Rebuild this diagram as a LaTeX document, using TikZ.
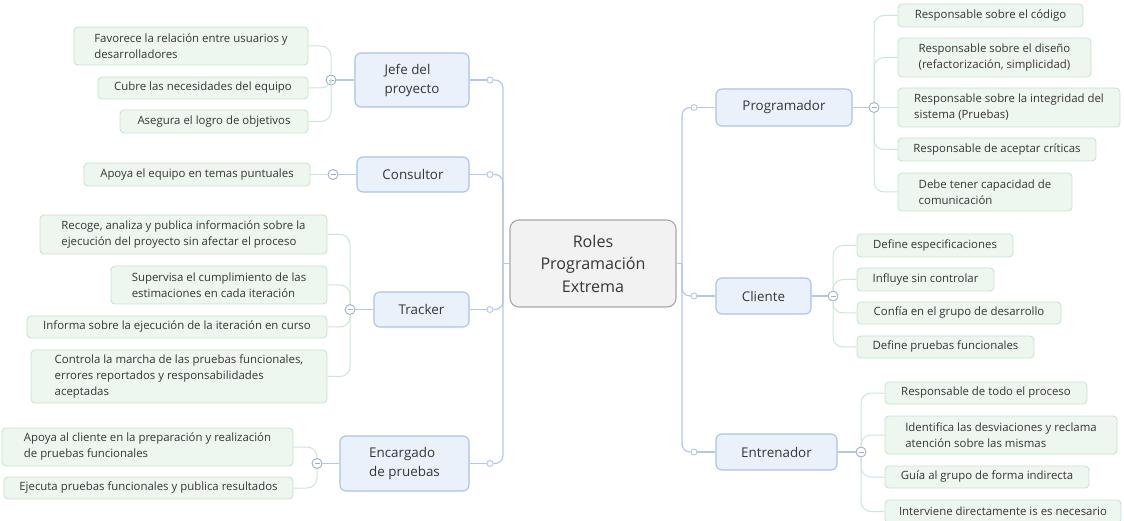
\documentclass[tikz,border=0pt]{standalone}
\usepackage{fontspec}
\setmainfont{Open Sans}
\definecolor{txt}{HTML}{363636}
\definecolor{leaffill}{HTML}{EDF6EF}
\definecolor{leafborder}{HTML}{C6E5CE}
\definecolor{rolefill}{HTML}{EBF1FA}
\definecolor{roleborder}{HTML}{A9C2E6}
\definecolor{rootfill}{HTML}{F2F2F2}
\definecolor{rootborder}{HTML}{A8A8A8}
\definecolor{trunk}{HTML}{B3C8E7}
\definecolor{twig}{HTML}{CBE7D3}
\definecolor{foldc}{HTML}{9FB0C4}
\begin{document}
\begin{tikzpicture}[x=1bp,y=-1bp,
  base/.style={align=left, inner sep=0pt, text=txt},
  sz/.style 2 args={minimum width=#1bp, minimum height=#2bp},
  leaf/.style={base, draw=leafborder, fill=leaffill, line width=0.9bp,
    rounded corners=4bp, font=\fontsize{11.4bp}{16bp}\selectfont},
  role/.style={base, draw=roleborder, fill=rolefill, line width=1.1bp,
    rounded corners=6bp, font=\fontsize{13.4bp}{19bp}\selectfont},
  rootbox/.style={align=center, inner sep=0pt, text=txt, draw=rootborder,
    fill=rootfill, line width=1.1bp, rounded corners=9bp,
    font=\fontsize{16.1bp}{22.5bp}\selectfont},
  dot/.style={circle, draw=trunk, fill=white, line width=0.9bp,
    inner sep=0pt, minimum size=6bp},
  fold/.style={circle, draw=foldc, fill=white, line width=0.9bp,
    inner sep=0pt, minimum size=10bp,
    path picture={\draw[foldc, line width=0.9bp]
      ([xshift=-2.5bp]path picture bounding box.center) --
      ([xshift=2.5bp]path picture bounding box.center);}},
  trunkline/.style={draw=trunk, line width=1.2bp, rounded corners=8bp},
  twigline/.style={draw=twig, line width=1bp, rounded corners=10bp}
]
\useasboundingbox (0,0) rectangle (1124,521);

% central topic
\node[rootbox, sz={166}{87}] (root) at (593,263.5) {Roles\\Programación\\Extrema};
\coordinate (lhub) at (503,263.5);
\coordinate (rhub) at (682,263.5);

% roles on the left
\node[role, sz={114}{54}] (jefe) at (412,80) {Jefe del\\proyecto};
\node[role, sz={112}{35}] (cons) at (413,174.5) {Consultor};
\node[role, sz={95}{35}] (track) at (421.5,309.5) {Tracker};
\node[role, sz={129}{55}] (enc) at (404.5,463.5) {Encargado\\de pruebas};

% roles on the right
\node[role, sz={136}{37}] (prog) at (784,107.5) {Programador};
\node[role, sz={95}{36}] (cli) at (763.5,296) {Cliente};
\node[role, sz={121}{36}] (ent) at (776.5,452) {Entrenador};

% trunk joints
\node[dot] (dj) at (490,80) {};
\node[dot] (dc) at (490,174.5) {};
\node[dot] (dt) at (490,309.5) {};
\node[dot] (de) at (490,463.5) {};
\node[dot] (dp) at (694,107.5) {};
\node[dot] (dcl) at (694,296) {};
\node[dot] (den) at (694,452) {};

% collapse markers
\node[fold] (cj) at (331,80) {};
\node[fold] (cc) at (333,174.5) {};
\node[fold] (ct) at (350,309.5) {};
\node[fold] (ce) at (317,463.5) {};
\node[fold] (cp) at (874,107.5) {};
\node[fold] (ccl) at (833,296) {};
\node[fold] (cen) at (861,452) {};

% details: Jefe del proyecto
\node[leaf, sz={234}{38}] (j1) at (191,46) {Favorece la relación entre usuarios y\\desarrolladores};
\node[leaf, sz={210}{22}] (j2) at (203,88) {Cubre las necesidades del equipo};
\node[leaf, sz={188}{23}] (j3) at (214,121.5) {Asegura el logro de objetivos};
% Consultor
\node[leaf, sz={226}{23}] (c1) at (197,174.5) {Apoya el equipo en temas puntuales};
% Tracker
\node[leaf, sz={287}{39}] (t1) at (183.5,234.5) {Recoge, analiza y publica información sobre la\\ejecución del proyecto sin afectar el proceso};
\node[leaf, sz={216}{38}] (t2) at (219,285) {Supervisa el cumplimiento de las\\estimaciones en cada iteración};
\node[leaf, sz={300}{22}] (t3) at (177,327) {Informa sobre la ejecución de la iteración en curso};
\node[leaf, sz={296}{53}] (t4) at (179,376.5) {Controla la marcha de las pruebas funcionales,\\errores reportados y responsabilidades\\aceptadas};
% Encargado de pruebas
\node[leaf, sz={291}{38}] (e1) at (147.5,447) {Apoya al cliente en la preparación y realización\\de pruebas funcionales};
\node[leaf, sz={289}{22}] (e2) at (148.5,488) {Ejecuta pruebas funcionales y publica resultados};

% Programador
\node[leaf, sz={185}{23}] (p1) at (990.5,15.5) {Responsable sobre el código};
\node[leaf, sz={193}{39}] (p2) at (994.5,57.5) {Responsable sobre el diseño\\(refactorización, simplicidad)};
\node[leaf, sz={222}{39}] (p3) at (1009,107.5) {Responsable sobre la integridad del\\sistema (Pruebas)};
\node[leaf, sz={198}{23}] (p4) at (997,149.5) {Responsable de aceptar críticas};
\node[leaf, sz={174}{38}] (p5) at (985,192) {Debe tener capacidad de\\comunicación};
% Cliente
\node[leaf, sz={156}{23}] (l1) at (935,245.5) {Define especificaciones};
\node[leaf, sz={137}{23}] (l2) at (925.5,279.5) {Influye sin controlar};
\node[leaf, sz={204}{22}] (l3) at (959,313) {Confía en el grupo de desarrollo};
\node[leaf, sz={177}{22}] (l4) at (945.5,347) {Define pruebas funcionales};
% Entrenador
\node[leaf, sz={202}{22}] (n1) at (986,393) {Responsable de todo el proceso};
\node[leaf, sz={232}{38}] (n2) at (1001,435) {Identifica las desviaciones y reclama\\atención sobre las mismas};
\node[leaf, sz={204}{22}] (n3) at (987,477) {Guía al grupo de forma indirecta};
\node[leaf, sz={236}{23}] (n4) at (1003,511.5) {Interviene directamente is es necesario};

% trunk connectors
\draw[trunkline] (lhub) -- (root);
\draw[trunkline] (rhub) -- (root);
\foreach \r/\d in {jefe/dj, cons/dc, track/dt, enc/de} {
  \draw[trunkline] (\r.east) -- (\d);
  \draw[trunkline] (\d) -| (lhub);
}
\foreach \r/\d in {prog/dp, cli/dcl, ent/den} {
  \draw[trunkline] (\r.west) -- (\d);
  \draw[trunkline] (\d) -| (rhub);
}
\draw[trunkline] (jefe.west) -- (cj);
\draw[trunkline] (cons.west) -- (cc);
\draw[trunkline] (track.west) -- (ct);
\draw[trunkline] (enc.west) -- (ce);
\draw[trunkline] (prog.east) -- (cp);
\draw[trunkline] (cli.east) -- (ccl);
\draw[trunkline] (ent.east) -- (cen);

% detail connectors
\foreach \l in {j1,j2,j3} \draw[twigline] (\l.east) -| (cj);
\draw[twigline] (c1.east) -- (cc);
\foreach \l in {t1,t2,t3,t4} \draw[twigline] (\l.east) -| (ct);
\foreach \l in {e1,e2} \draw[twigline] (\l.east) -| (ce);
\foreach \l in {p1,p2,p4,p5} \draw[twigline] (\l.west) -| (cp);
\draw[twigline] (p3.west) -- (cp);
\foreach \l in {l1,l2,l3,l4} \draw[twigline] (\l.west) -| (ccl);
\foreach \l in {n1,n2,n3,n4} \draw[twigline] (\l.west) -| (cen);
\end{tikzpicture}
\end{document}
